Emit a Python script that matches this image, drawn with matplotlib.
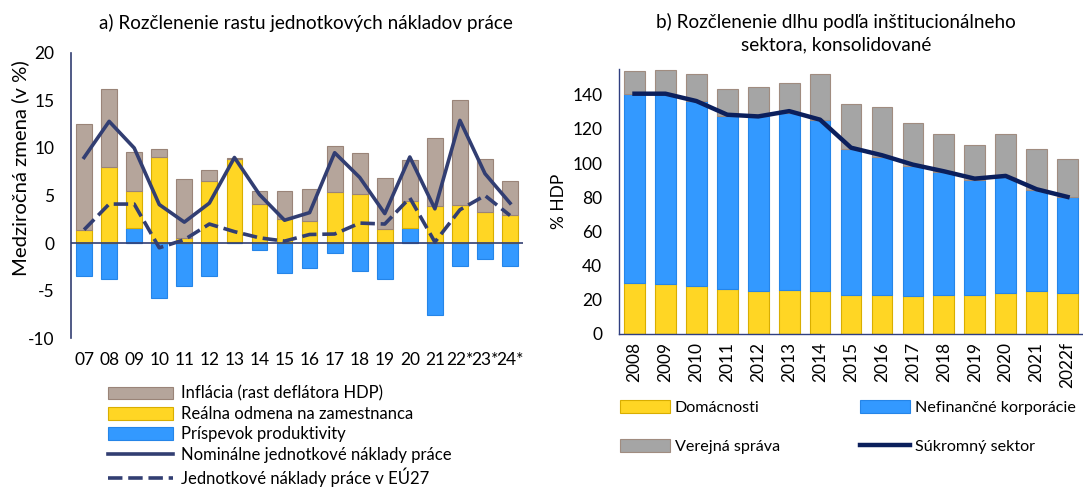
import matplotlib
matplotlib.use('Agg')
import matplotlib.pyplot as plt
import numpy as np

plt.rcParams['font.family'] = ['Lato', 'DejaVu Sans']

# a) rozclenenie rastu ULC
roky_a = ['07', '08', '09', '10', '11', '12', '13', '14', '15', '16', '17', '18',
          '19', '20', '21', '22*', '23*', '24*']
produktivita = [-3.45, -3.8, 1.6, -5.8, -4.5, -3.45, 0.1, -0.7, -3.2, -2.6, -1.0, -2.9,
                -3.8, 1.6, -7.6, -2.4, -1.65, -2.4]
odmena = [1.35, 8.0, 3.9, 9.0, 0.5, 6.5, 8.7, 4.1, 2.5, 2.3, 5.4, 5.2,
          1.5, 2.8, 3.85, 4.05, 3.3, 2.9]
inflacia = [11.15, 8.2, 4.1, 0.9, 6.2, 1.15, 0.1, 1.4, 3.0, 3.4, 4.8, 4.25,
            5.3, 4.3, 7.15, 10.95, 5.5, 3.6]
nominalne_ulc = [9.0, 12.8, 10.0, 4.05, 2.2, 4.2, 9.0, 5.1, 2.4, 3.2, 9.5, 6.9,
                 3.1, 9.05, 3.6, 12.9, 7.3, 4.2]
ulc_eu27 = [1.4, 4.1, 4.1, -0.5, 0.35, 2.0, 1.2, 0.55, 0.2, 0.9, 0.95, 2.1,
            2.0, 4.75, 0.1, 3.5, 5.0, 2.9]

# b) dlh podla sektora
roky_b = ['2008', '2009', '2010', '2011', '2012', '2013', '2014', '2015', '2016',
          '2017', '2018', '2019', '2020', '2021', '2022f']
domacnosti = [29.6, 29.2, 28.2, 26.3, 25.3, 25.5, 25.1, 23.0, 22.6, 22.2, 22.8, 22.8,
              24.1, 24.9, 23.8]
nefin_korp = [110.8, 111.4, 108.1, 101.4, 102.0, 104.0, 99.9, 85.5, 81.0, 75.9, 72.0,
              67.5, 67.8, 59.2, 56.4]
verejna = [13.2, 13.6, 15.6, 15.8, 17.2, 17.5, 27.3, 26.2, 29.4, 25.5, 22.4, 20.5,
           25.3, 24.4, 22.4]
sukromny = [140.6, 140.6, 136.3, 128.3, 127.3, 130.4, 125.4, 109.0, 104.6, 99.1, 95.2,
            90.9, 92.5, 84.7, 80.2]

c_gray_a = '#B5A59B'
c_gray_b = '#A5A5A5'
c_yel = '#FFD624'
c_blue = '#3399FF'
c_navy_a = '#323E72'
c_navy_b = '#0B1F5C'

fig = plt.figure(figsize=(10.83, 4.90), dpi=100)

# ---------- lavy graf ----------
ax1 = fig.add_axes([0.0656, 0.310, 0.4174, 0.582])
x = np.arange(len(roky_a))
w = 0.63
prod = np.array(produktivita)
odm = np.array(odmena)
inf = np.array(inflacia)
pos_prod = np.where(prod > 0, prod, 0)
neg_prod = np.where(prod < 0, prod, 0)

ax1.bar(x, neg_prod, w, color=c_blue, edgecolor='#2585E8', lw=0.8, zorder=2)
ax1.bar(x, pos_prod, w, color=c_blue, edgecolor='#2585E8', lw=0.8, zorder=2)
ax1.bar(x, odm, w, bottom=pos_prod, color=c_yel, edgecolor='#D9AE00', lw=0.8, zorder=2)
ax1.bar(x, inf, w, bottom=pos_prod + odm, color=c_gray_a, edgecolor='#9A8478', lw=0.8, zorder=2)
ax1.axhline(0, color=c_navy_a, lw=1.2, zorder=3)
ax1.plot(x, nominalne_ulc, color=c_navy_a, lw=2.6, zorder=4)
ax1.plot(x, ulc_eu27, color=c_navy_a, lw=2.6, dashes=(4, 1.6), zorder=4)

ax1.set_xlim(-0.52, len(x) - 0.48)
ax1.set_ylim(-10, 20)
ax1.set_yticks([-10, -5, 0, 5, 10, 15, 20])
ax1.set_yticklabels(['-10', '-5', '0', '5', '10', '15', '20'])
ax1.set_xticks(x)
ax1.set_xticklabels(roky_a)
ax1.tick_params(axis='y', length=0, pad=12, labelsize=12.5)
ax1.tick_params(axis='x', length=0, pad=10, labelsize=12.5)
for s in ['top', 'right', 'bottom']:
    ax1.spines[s].set_visible(False)
ax1.spines['left'].set_color(c_navy_a)
ax1.spines['left'].set_linewidth(1.2)
ax1.set_ylabel('Medziročná zmena (v %)', fontsize=14.6, labelpad=2)
ax1.yaxis.set_label_coords(-0.093, 0.596)
fig.text(0.2826, 0.953, 'a) Rozčlenenie rastu jednotkových nákladov práce',
         fontsize=13.6, ha='center', va='center')

h1 = [
    plt.Rectangle((0, 0), 1, 1, fc=c_gray_a, ec='#9A8478', lw=0.8),
    plt.Rectangle((0, 0), 1, 1, fc=c_yel, ec='#D9AE00', lw=0.8),
    plt.Rectangle((0, 0), 1, 1, fc=c_blue, ec='#2585E8', lw=0.8),
    plt.Line2D([], [], color=c_navy_a, lw=2.6),
    plt.Line2D([], [], color=c_navy_a, lw=2.6, dashes=(4, 1.6)),
]
l1 = ['Inflácia (rast deflátora HDP)', 'Reálna odmena na zamestnanca',
      'Príspevok produktivity', 'Nominálne jednotkové náklady práce',
      'Jednotkové náklady práce v EÚ27']
fig.legend(h1, l1, loc='upper left', bbox_to_anchor=(0.0997, 0.213), frameon=False,
           fontsize=12, handlelength=3.9, handleheight=0.8, handletextpad=0.5,
           labelspacing=0.26, borderpad=0, borderaxespad=0)

# ---------- pravy graf ----------
ax2 = fig.add_axes([0.5716, 0.3184, 0.4284, 0.5406])
xb = np.arange(len(roky_b))
wb = 0.67
dom = np.array(domacnosti)
nfk = np.array(nefin_korp)
ver = np.array(verejna)
ax2.bar(xb, dom, wb, color=c_yel, edgecolor='#D9AE00', lw=0.8, zorder=2)
ax2.bar(xb, nfk, wb, bottom=dom, color=c_blue, edgecolor='#2585E8', lw=0.8, zorder=2)
ax2.bar(xb, ver, wb, bottom=dom + nfk, color=c_gray_b, edgecolor='#A08C80', lw=0.8, zorder=2)
ax2.plot(xb, sukromny, color=c_navy_b, lw=3.2, zorder=4)

ax2.set_xlim(-0.5, len(xb) - 0.5)
ax2.set_ylim(0, 155)
ax2.set_yticks(np.arange(0, 141, 20))
ax2.set_xticks(xb)
ax2.set_xticklabels(roky_b, rotation=90)
ax2.tick_params(axis='y', length=0, pad=12, labelsize=12.5)
ax2.tick_params(axis='x', length=0, pad=6, labelsize=12.5)
for s in ['top', 'right']:
    ax2.spines[s].set_visible(False)
ax2.spines['left'].set_color('#2F3F80')
ax2.spines['bottom'].set_color('#2F3F80')
ax2.spines['left'].set_linewidth(1.0)
ax2.spines['bottom'].set_linewidth(1.0)
ax2.set_ylabel('% HDP', fontsize=12.5, labelpad=4)
fig.text(0.772, 0.932, 'b) Rozčlenenie dlhu podľa inštitucionálneho\nsektora, konsolidované',
         fontsize=13.6, ha='center', va='center', linespacing=1.4)

h2 = [
    plt.Rectangle((0, 0), 1, 1, fc=c_yel, ec='#D9AE00', lw=0.8),
    plt.Rectangle((0, 0), 1, 1, fc=c_gray_b, ec='#A08C80', lw=0.8),
    plt.Rectangle((0, 0), 1, 1, fc=c_blue, ec='#2585E8', lw=0.8),
    plt.Line2D([], [], color=c_navy_b, lw=3.2),
]
l2 = ['Domácnosti', 'Verejná správa', 'Nefinančné korporácie', 'Súkromný sektor']
fig.legend(h2, l2, loc='upper left', bbox_to_anchor=(0.5725, 0.183), ncol=2,
           frameon=False, fontsize=11.6, handlelength=3.1, handleheight=0.8,
           handletextpad=0.3, labelspacing=1.5, columnspacing=5.0,
           borderpad=0, borderaxespad=0)

fig.savefig('out.png', dpi=100)
